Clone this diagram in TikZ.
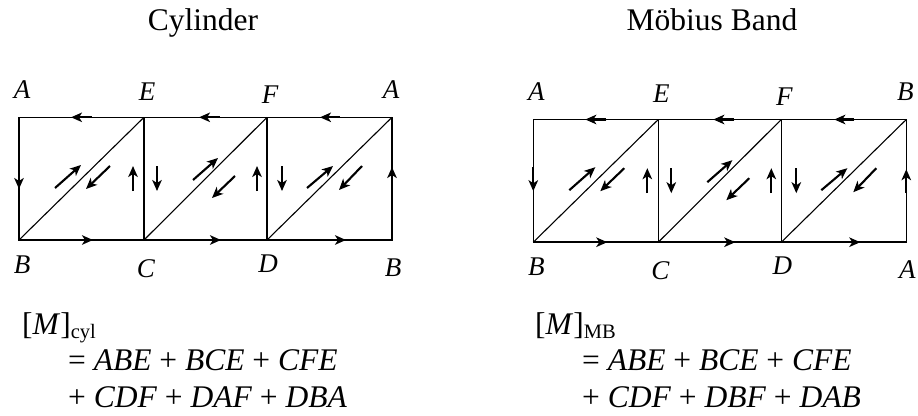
\documentclass[tikz,border=0pt]{standalone}
\usepackage{fontspec}
\setmainfont{Liberation Serif}
\usetikzlibrary{arrows.meta}
\begin{document}
\begin{tikzpicture}[x=1pt,y=-1pt,
  outeredge/.style={line width=1.5pt},
  inneredge/.style={line width=1.1pt},
  orient/.style={line width=2.1pt,-{Stealth[length=11pt,width=9.5pt,inset=3pt]}},
  lab/.style={font=\fontsize{27}{30}\selectfont\itshape, anchor=base, inner sep=0pt},
  ttl/.style={font=\fontsize{31.5}{36}\selectfont, anchor=base, inner sep=0pt},
  frm/.style={font=\fontsize{31.5}{36}\selectfont, anchor=base west, inner sep=0pt}]
\useasboundingbox (0,0) rectangle (918,415);

\node[ttl] (t1) at (203,30) {Cylinder};
\node[ttl] (t2) at (712,30) {Möbius Band};

\foreach \dx/\dy/\p/\tr/\br in {0/0/l/A/B, 514.3/2.2/r/B/A}{
\begin{scope}[shift={(\dx,\dy)}]
  \coordinate (\p A1) at (19,117.3);
  \coordinate (\p E) at (144,117.3);
  \coordinate (\p F) at (267,117.3);
  \coordinate (\p A2) at (392,117.3);
  \coordinate (\p B1) at (19,240);
  \coordinate (\p C) at (144,240);
  \coordinate (\p D) at (267,240);
  \coordinate (\p B2) at (392,240);
  \draw[outeredge] (\p A1) -- (\p A2) -- (\p B2) -- (\p B1) -- cycle;
  \draw[inneredge] (\p E) -- (\p C);
  \draw[inneredge] (\p F) -- (\p D);
  \draw[inneredge] (\p B1) -- (\p E);
  \draw[inneredge] (\p C) -- (\p F);
  \draw[inneredge] (\p D) -- (\p A2);
  % orientation arrows
  \draw[orient] (92,117.3) -- (71,117.3);
  \draw[orient] (220,117.3) -- (199,117.3);
  \draw[orient] (340,117.3) -- (320,117.3);
  \draw[orient] (70,240) -- (93,240);
  \draw[orient] (198,240) -- (221,240);
  \draw[orient] (323,240) -- (346,240);
  \draw[orient] (19,165) -- (19,189);
  \draw[orient] (392,191) -- (392,167);
  \draw[orient] (133,191) -- (133,166);
  \draw[orient] (157,166) -- (157,191);
  \draw[orient] (257,191) -- (257,166);
  \draw[orient] (282,166) -- (282,191);
  \draw[orient] (55,188) -- (81,165);
  \draw[orient] (110,166) -- (86,189);
  \draw[orient] (193,180) -- (218,158);
  \draw[orient] (235,176) -- (212,198);
  \draw[orient] (307,188) -- (333,166);
  \draw[orient] (362,166) -- (339,190);
  % labels
  \node[lab] (\p-a1) at (22,98) {A};
  \node[lab] (\p-e) at (147,100) {E};
  \node[lab] (\p-f) at (270,103) {F};
  \node[lab] (\p-a2) at (391,98) {\tr};
  \node[lab] (\p-b1) at (22,273) {B};
  \node[lab] (\p-c) at (146,277) {C};
  \node[lab] (\p-d) at (268,272) {D};
  \node[lab] (\p-b2) at (393,276) {\br};
\end{scope}
}

\node[frm] (m1) at (22,334) {[\textit{M}]\raisebox{-4pt}{\fontsize{20.5}{22}\selectfont cyl}};
\node[frm] (m1a) at (68,370) {= \textit{ABE} + \textit{BCE} + \textit{CFE}};
\node[frm] (m1b) at (68,407) {+ \textit{CDF} + \textit{DAF} + \textit{DBA}};

\node[frm] (m2) at (535,334) {[\textit{M}]\raisebox{-4pt}{\fontsize{20.5}{22}\selectfont MB}};
\node[frm] (m2a) at (582,370) {= \textit{ABE} + \textit{BCE} + \textit{CFE}};
\node[frm] (m2b) at (582,407) {+ \textit{CDF} + \textit{DBF} + \textit{DAB}};
\end{tikzpicture}
\end{document}
